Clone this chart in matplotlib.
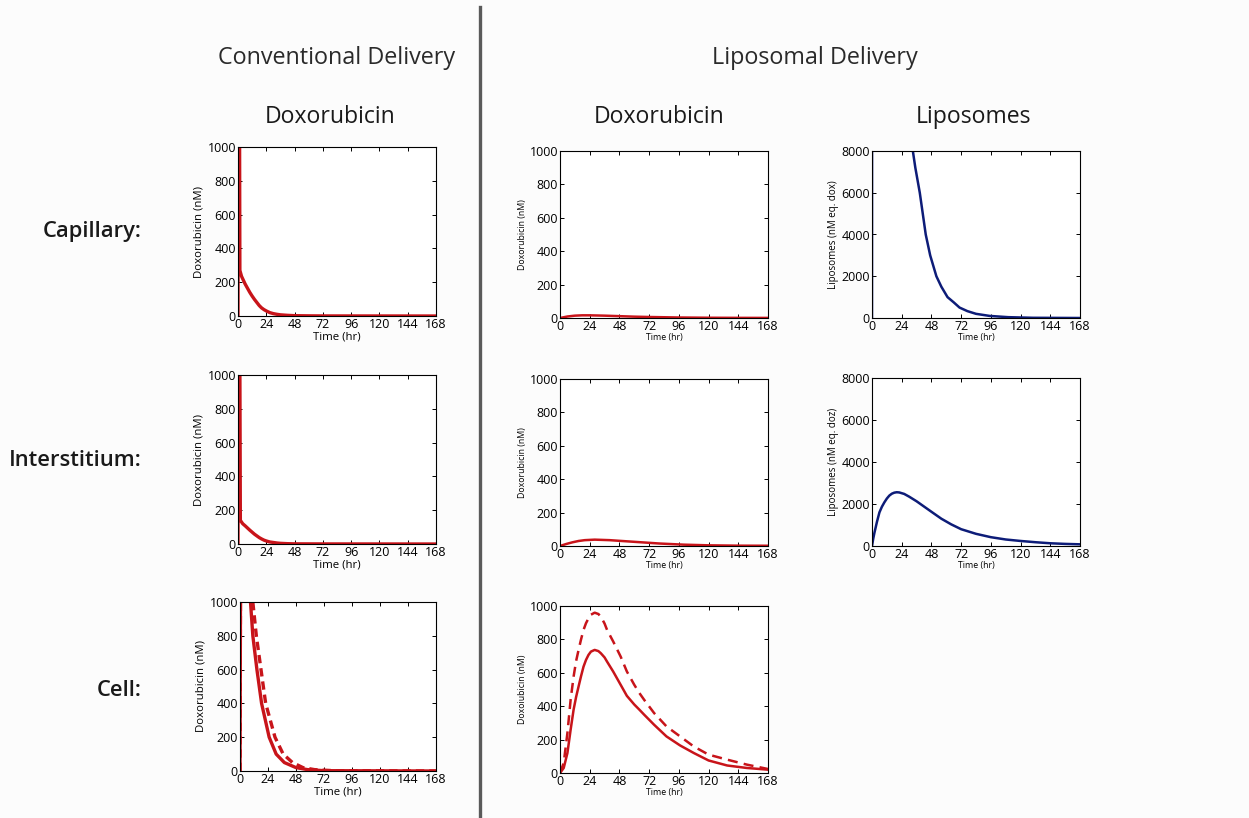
import matplotlib
matplotlib.use('Agg')
import matplotlib.pyplot as plt
from matplotlib.lines import Line2D

plt.rcParams['font.family'] = ['Open Sans', 'DejaVu Sans']

# 시간 눈금 (hr)
time_ticks = [0, 24, 48, 72, 96, 120, 144, 168]
dox_ticks = [0, 200, 400, 600, 800, 1000]
lipo_ticks = [0, 2000, 4000, 6000, 8000]

# 기존 전달 - 모세혈관
conv_cap_t = [0, 0.4, 1.2, 1.6, 3, 6, 8, 10, 12, 14, 16, 18, 20, 22, 24, 27, 30, 33, 36, 42, 48, 60, 72, 168]
conv_cap_y = [0, 1500, 1500, 270, 235, 190, 165, 140, 118, 98, 80, 62, 48, 38, 30, 20, 14, 10, 7, 4, 2, 1, 0.5, 0]

# 기존 전달 - 간질
conv_int_t = [0, 0.4, 1.4, 2, 4, 6, 8, 10, 12, 14, 16, 18, 20, 22, 24, 27, 30, 33, 36, 42, 48, 72, 168]
conv_int_y = [0, 1500, 1500, 140, 120, 108, 95, 82, 70, 58, 48, 38, 30, 23, 18, 12, 9, 6, 4, 2, 1, 0.5, 0]

# 기존 전달 - 세포 (실선 / 점선)
conv_cell_t = [0, 0.6, 1, 4, 9, 11, 14.5, 18.5, 25, 31, 38, 48, 58, 72, 168]
conv_cell_solid = [0, 1500, 1700, 1500, 1000, 800, 600, 400, 200, 100, 50, 20, 8, 2, 0]
conv_cell_dash_t = [0, 0.6, 1, 5, 11, 14, 18, 22, 30, 37, 45, 54, 64, 80, 168]
conv_cell_dash = [0, 1500, 1800, 1600, 1000, 800, 600, 400, 200, 100, 50, 20, 8, 2, 0]

# 리포좀 전달 - 독소루비신
lip_cap_t = [0, 6, 12, 18, 24, 36, 48, 60, 72, 96, 120, 144, 168]
lip_cap_y = [0, 9, 14, 16, 16, 14, 11, 8, 6, 3, 1.5, 0.8, 0.5]
lip_int_t = [0, 5, 10, 15, 20, 28, 40, 60, 80, 100, 120, 144, 168]
lip_int_y = [0, 12, 22, 30, 35, 38, 35, 25, 15, 8, 4, 2, 1.5]
lip_cell_t = [0, 3, 6, 8.6, 11, 13, 15, 17, 19, 21, 23, 25, 28, 31, 33, 36, 38, 43, 49, 54, 60, 64, 68,
              76, 86, 97, 108, 120, 135, 151, 168]
lip_cell_solid = [0, 30, 120, 260, 380, 455, 518, 580, 637, 677, 707, 727, 737, 730, 717, 692, 667, 607,
                  528, 462, 410, 380, 349, 289, 219, 165, 120, 75, 45, 30, 20]
lip_cell_dash = [0, 60, 240, 440, 578, 670, 737, 800, 857, 897, 926, 948, 960, 952, 936, 895, 857, 787,
                 697, 608, 528, 480, 438, 359, 279, 219, 159, 110, 80, 50, 24]

# 리포좀 농도
lipo_cap_t = [0, 0.4, 12, 24, 33, 35, 38.6, 41, 43.4, 47, 52, 56, 61, 66, 70.7, 77, 84, 95, 110, 130, 168]
lipo_cap_y = [0, 75000, 33000, 15000, 8000, 7200, 6000, 5000, 4000, 3000, 2000, 1500, 1000, 750, 500,
              330, 200, 100, 40, 10, 0]
lipo_int_t = [0, 1, 2, 4, 6, 8, 10, 12, 14, 16, 18, 20, 22, 26, 30, 36, 42, 48, 56, 64, 72, 84, 96,
              108, 120, 132, 144, 156, 168]
lipo_int_y = [0, 350, 640, 1150, 1600, 1870, 2080, 2260, 2400, 2490, 2540, 2560, 2550, 2480, 2350, 2130,
              1880, 1630, 1300, 1030, 800, 580, 420, 310, 240, 180, 130, 100, 80]

RED = '#c8141a'
BLUE = '#0d1c78'

W, H = 1249, 818
fig = plt.figure(figsize=(W / 100, H / 100), dpi=100)
fig.patch.set_facecolor('#fcfcfc')


def make_ax(left, top, right, bottom):
    # 픽셀 좌표로 축을 만든다
    return fig.add_axes([left / W, 1 - bottom / H, (right - left) / W, (bottom - top) / H])


def style(ax, yticks, ylabel, small):
    ax.set_xlim(0, 168)
    ax.set_ylim(yticks[0], yticks[-1])
    ax.set_xticks(time_ticks)
    ax.set_yticks(yticks)
    ax.tick_params(direction='in', top=True, right=True, length=3, width=0.7,
                   labelsize=9, pad=1.5)
    for s in ax.spines.values():
        s.set_linewidth(0.8)
    lab = 6.3 if small else 8.2
    ax.set_xlabel('Time (hr)', fontsize=lab, labelpad=0)
    ax.set_ylabel(ylabel, fontsize=lab if ylabel.startswith('Dox') else 7, labelpad=2)


lw = 2.4

# 1행: 모세혈관
ax = make_ax(238, 147, 436, 316)
ax.plot(conv_cap_t, conv_cap_y, color=RED, lw=lw)
style(ax, dox_ticks, 'Doxorubicin (nM)', False)

ax = make_ax(560, 151, 768, 318)
ax.plot(lip_cap_t, lip_cap_y, color=RED, lw=1.8)
style(ax, dox_ticks, 'Doxorubicin (nM)', True)

ax = make_ax(872, 151, 1080, 318)
ax.plot(lipo_cap_t, lipo_cap_y, color=BLUE, lw=1.8)
style(ax, lipo_ticks, 'Liposomes (nM eq. dox)', True)

# 2행: 간질
ax = make_ax(238, 375, 436, 544)
ax.plot(conv_int_t, conv_int_y, color=RED, lw=lw)
style(ax, dox_ticks, 'Doxorubicin (nM)', False)

ax = make_ax(560, 379, 768, 546)
ax.plot(lip_int_t, lip_int_y, color=RED, lw=1.8)
style(ax, dox_ticks, 'Doxorubicin (nM)', True)

ax = make_ax(872, 378, 1080, 546)
ax.plot(lipo_int_t, lipo_int_y, color=BLUE, lw=1.8)
style(ax, lipo_ticks, 'Liposomes (nM eq. doz)', True)

# 3행: 세포
ax = make_ax(240, 602, 436, 771)
ax.plot(conv_cell_t, conv_cell_solid, color=RED, lw=lw)
ax.plot(conv_cell_dash_t, conv_cell_dash, color=RED, lw=lw, ls=(0, (2.5, 1.5)))
style(ax, dox_ticks, 'Doxorubicin (nM)', False)

ax = make_ax(560, 606, 768, 773)
ax.plot(lip_cell_t, lip_cell_solid, color=RED, lw=1.8)
ax.plot(lip_cell_t, lip_cell_dash, color=RED, lw=1.8, ls=(0, (4, 2.5)))
style(ax, dox_ticks, 'Doxoiubicin (nM)', True)

# 제목들
fig.text(337 / W, 1 - 58 / H, 'Conventional Delivery', ha='center', va='center',
         fontsize=16.8, color='#2a2a2a')
fig.text(815 / W, 1 - 58 / H, 'Liposomal Delivery', ha='center', va='center',
         fontsize=16.8, color='#2a2a2a')
for x, s in [(330, 'Doxorubicin'), (659, 'Doxorubicin'), (973, 'Liposomes')]:
    fig.text(x / W, 1 - 117 / H, s, ha='center', va='center', fontsize=16.6, color='#1a1a1a')
for y, s in [(232, 'Capillary:'), (461, 'Interstitium:'), (690, 'Cell:')]:
    fig.text(142 / W, 1 - y / H, s, ha='right', va='center', fontsize=15.8,
             fontweight='semibold', color='#1a1a1a')

# 구분선
fig.add_artist(Line2D([480 / W, 480 / W], [0, 1 - 7 / H], transform=fig.transFigure,
                      color='#5a5a5a', lw=2.4))

fig.savefig('out.png', dpi=100, facecolor=fig.get_facecolor())
